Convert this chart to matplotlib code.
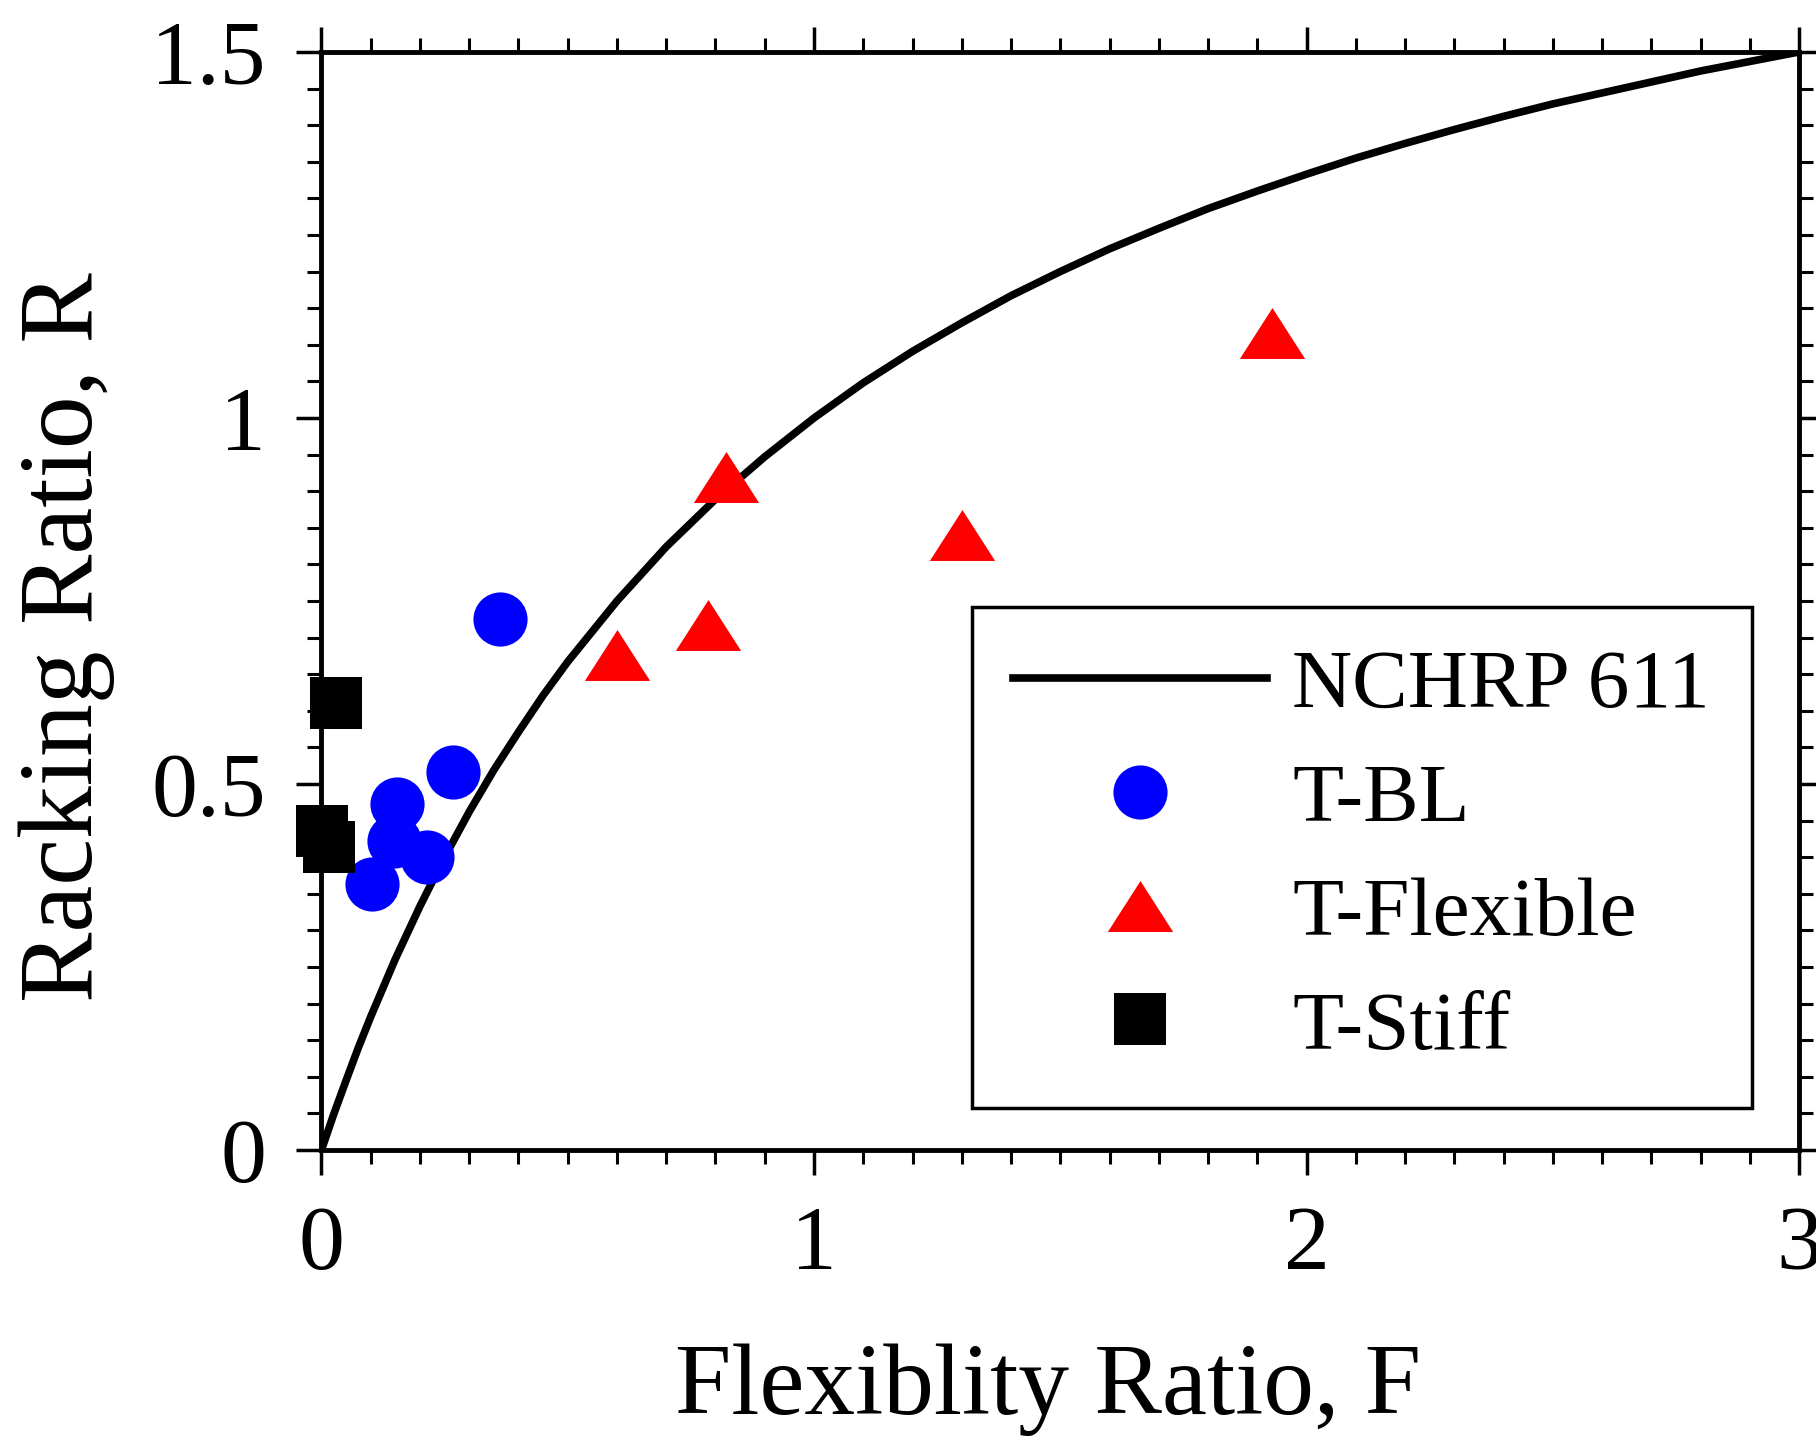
import matplotlib
matplotlib.use("Agg")
import matplotlib.pyplot as plt
from matplotlib.ticker import MultipleLocator

# NCHRP 611 curve
curve_f = [0, 0.025, 0.05, 0.075, 0.1, 0.15, 0.2, 0.25, 0.3, 0.35, 0.4, 0.45, 0.5,
           0.6, 0.7, 0.8, 0.9, 1.0, 1.1, 1.2, 1.3, 1.4, 1.5, 1.6, 1.7, 1.8, 1.9,
           2.0, 2.1, 2.2, 2.3, 2.4, 2.5, 2.6, 2.7, 2.8, 2.9, 3.0]
curve_r = [0, 0.049, 0.095, 0.14, 0.182, 0.261, 0.333, 0.4, 0.462, 0.519, 0.571, 0.621,
           0.667, 0.75, 0.824, 0.889, 0.947, 1.0, 1.048, 1.091, 1.13, 1.167, 1.2, 1.231,
           1.259, 1.286, 1.31, 1.333, 1.355, 1.375, 1.394, 1.412, 1.429, 1.444, 1.459,
           1.474, 1.487, 1.5]

# T-BL
bl_f = [0.362, 0.267, 0.153, 0.147, 0.215, 0.103]
bl_r = [0.725, 0.517, 0.473, 0.422, 0.400, 0.364]

# T-Flexible
flex_f = [1.929, 0.821, 1.301, 0.784, 0.600]
flex_r = [1.116, 0.919, 0.840, 0.717, 0.676]

# T-Stiff
stiff_f = [0.029, 0.001, 0.015]
stiff_r = [0.611, 0.436, 0.414]

plt.rcParams['font.family'] = ['Liberation Serif', 'DejaVu Serif']

fig = plt.figure(figsize=(18.16, 14.39), dpi=100)
ax = fig.add_axes([0.177, 0.2008, 0.8137, 0.7631])

tri = [(-1, -0.78), (1, -0.78), (0, 0.78)]

ax.plot(curve_f, curve_r, color='black', linewidth=5.5, label='NCHRP 611', zorder=2)
ax.plot(bl_f, bl_r, linestyle='none', marker='o', markersize=39,
        color='#0000ff', markeredgewidth=0, label='T-BL', zorder=3, clip_on=False)
ax.plot(flex_f, flex_r, linestyle='none', marker=tri, markersize=47,
        color='#ff0000', markeredgewidth=0, label='T-Flexible', zorder=3, clip_on=False)
ax.plot(stiff_f, stiff_r, linestyle='none', marker='s', markersize=37,
        color='black', markeredgewidth=0, label='T-Stiff', zorder=4, clip_on=False)

ax.set_xlim(0, 3)
ax.set_ylim(0, 1.5)
ax.set_xticks([0, 1, 2, 3])
ax.set_xticklabels(['0', '1', '2', '3'])
ax.set_yticks([0, 0.5, 1, 1.5])
ax.set_yticklabels(['0', '0.5', '1', '1.5'])
ax.xaxis.set_minor_locator(MultipleLocator(0.1))
ax.yaxis.set_minor_locator(MultipleLocator(0.05))

for s in ax.spines.values():
    s.set_linewidth(3.5)
ax.tick_params(which='both', direction='out', top=True, right=True,
               labeltop=False, labelright=False)
ax.tick_params(which='major', length=18, width=2.5, labelsize=66, pad=22)
ax.tick_params(which='minor', length=10, width=2.2)

ax.set_xlabel('Flexiblity Ratio, F', fontsize=73, labelpad=40)
ax.xaxis.label.set_x(0.492)
ax.set_ylabel('Racking Ratio, R', fontsize=76)
ax.yaxis.set_label_coords(-0.14, 0.467)

leg = ax.legend(loc='lower right', bbox_to_anchor=(0.968, 0.038), fontsize=60,
                frameon=True, fancybox=False, framealpha=1, edgecolor='black',
                handlelength=3.05, handletextpad=0.3, labelspacing=0.45,
                borderpad=0.5, borderaxespad=0, numpoints=1)
leg.get_frame().set_linewidth(2.5)

fig.savefig('out.png', dpi=100)
